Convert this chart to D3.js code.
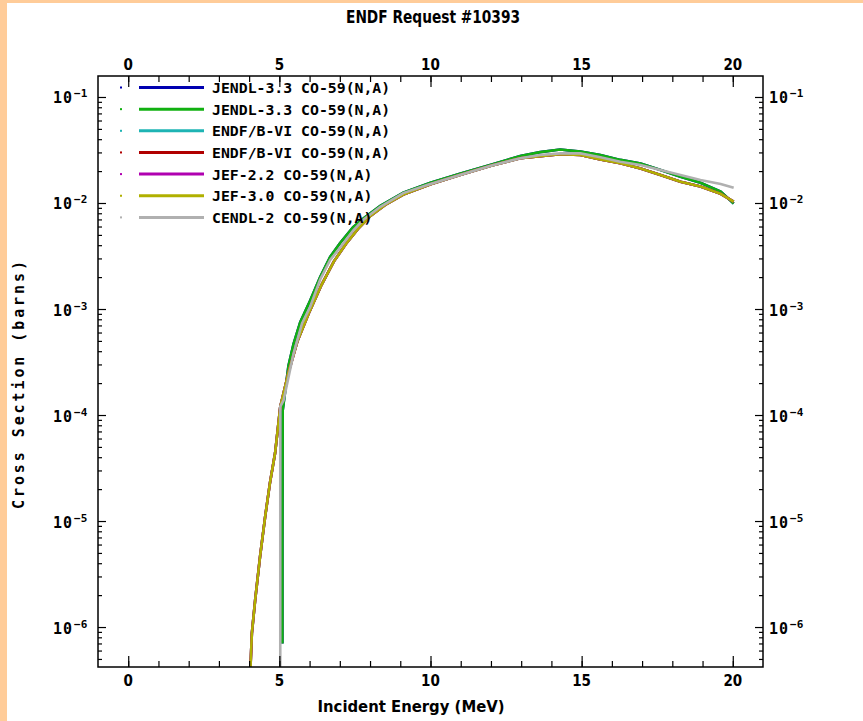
<!DOCTYPE html>
<html>
<head>
<meta charset="utf-8">
<script src="https://cdn.jsdelivr.net/npm/d3@7"></script>
<style>
  html, body { margin: 0; padding: 0; background: #ffffff; }
  svg { display: block; }
</style>
</head>
<body>
<svg id="chart" width="863" height="721"></svg>
<script>
// ---------------- DATA ----------------
const titleText = "ENDF Request #10393";
const xLabelText = "Incident Energy (MeV)";
const yLabelText = "Cross Section (barns)";

const seriesNames = [
  "JENDL-3.3 CO-59(N,A)",
  "JENDL-3.3 CO-59(N,A)",
  "ENDF/B-VI CO-59(N,A)",
  "ENDF/B-VI CO-59(N,A)",
  "JEF-2.2 CO-59(N,A)",
  "JEF-3.0 CO-59(N,A)",
  "CENDL-2 CO-59(N,A)"
];
const seriesColors = ["#0000b0", "#11b011", "#1eb4b4", "#b00000", "#b000b0", "#b0b000", "#b0b0b0"];

const xMajorTicks = [0, 5, 10, 15, 20];
const xMinorTicks = [0,1,2,3,4,5,6,7,8,9,10,11,12,13,14,15,16,17,18,19,20];
const yDecades = [-6, -5, -4, -3, -2, -1];

// [energy MeV, cross section barns]
const jendlA = [
  [5.10, 7e-7], [5.10, 6e-6], [5.11, 1.1e-4], [5.30, 2.9e-4], [5.47, 4.7e-4], [5.69, 7.5e-4],
  [6.02, 1.2e-3], [6.35, 2.0e-3], [6.68, 3.1e-3], [7.01, 4.2e-3], [7.44, 5.9e-3], [7.80, 7.2e-3],
  [8.34, 9.4e-3], [9.10, 1.25e-2], [10.0, 1.55e-2], [11.0, 1.9e-2], [12.0, 2.3e-2], [12.97, 2.78e-2],
  [13.63, 3.02e-2], [14.29, 3.2e-2], [14.96, 3.05e-2], [15.62, 2.84e-2], [16.28, 2.55e-2],
  [16.95, 2.36e-2], [17.61, 2.05e-2], [18.27, 1.77e-2], [18.93, 1.55e-2], [19.60, 1.28e-2], [20.03, 0.99e-2]
];
const jendlB = jendlA;
const endfA = [
  [4.02, 1e-8], [4.05, 4.5e-7], [4.09, 8.7e-7], [4.20, 1.8e-6], [4.36, 4.6e-6], [4.53, 1.1e-5],
  [4.69, 2.3e-5], [4.86, 4.4e-5], [5.03, 1.2e-4], [5.30, 2.5e-4], [5.60, 5.0e-4], [6.00, 9.5e-4],
  [6.40, 1.7e-3], [6.80, 2.8e-3], [7.20, 4.1e-3], [7.60, 5.7e-3], [8.00, 7.5e-3], [8.50, 9.6e-3],
  [9.10, 1.2e-2], [10.0, 1.5e-2], [11.0, 1.85e-2], [12.0, 2.25e-2], [12.97, 2.64e-2], [13.63, 2.77e-2],
  [14.29, 2.88e-2], [14.96, 2.84e-2], [15.62, 2.58e-2], [16.28, 2.37e-2], [16.95, 2.12e-2],
  [17.61, 1.84e-2], [18.27, 1.59e-2], [18.93, 1.43e-2], [19.60, 1.22e-2], [20.03, 1.03e-2]
];
const endfB = endfA;
const jef22 = endfA;
const jef30 = endfA;
const cendl2 = [
  [5.03, 1e-9], [5.03, 1.2e-4], [5.14, 1.38e-4], [5.47, 3.8e-4], [5.75, 7.3e-4], [6.02, 1.05e-3],
  [6.35, 1.9e-3], [6.68, 2.9e-3], [7.01, 3.8e-3], [7.44, 5.5e-3], [7.77, 6.9e-3], [8.34, 9.2e-3],
  [9.10, 1.24e-2], [9.89, 1.48e-2], [11.0, 1.85e-2], [12.0, 2.25e-2], [12.97, 2.64e-2], [13.63, 2.84e-2],
  [14.29, 2.94e-2], [14.96, 2.94e-2], [15.62, 2.70e-2], [16.28, 2.45e-2], [16.95, 2.28e-2],
  [17.61, 2.05e-2], [18.27, 1.84e-2], [18.93, 1.65e-2], [19.60, 1.51e-2], [20.03, 1.39e-2]
];
const seriesData = [jendlA, jendlB, endfA, endfB, jef22, jef30, cendl2];

// ---------------- LAYOUT ----------------
const W = 863, H = 721;
const L = 98, R = 763, T = 76, B = 667;
const svg = d3.select("#chart");

svg.append("rect").attr("x", 0).attr("y", 0).attr("width", W).attr("height", H).attr("fill", "#ffcc99");
svg.append("rect").attr("x", 7).attr("y", 3).attr("width", W - 7).attr("height", H - 3).attr("fill", "#ffffff");

const x = d3.scaleLinear().domain([-1, 21]).range([L, R]);
const y = d3.scaleLog().domain([Math.pow(10, -6.377), Math.pow(10, -0.802)]).range([B, T]);

const monoFont = "'DejaVu Sans Mono', 'Liberation Mono', monospace";
const narrowFont = "'Liberation Sans Narrow', 'DejaVu Sans Condensed', 'DejaVu Sans', sans-serif";

// clip
svg.append("defs").append("clipPath").attr("id", "plotclip")
  .append("rect").attr("x", L).attr("y", T).attr("width", R - L).attr("height", B - T);

// curves
const line = d3.line().x(d => x(d[0])).y(d => y(d[1]));
const curves = svg.append("g").attr("clip-path", "url(#plotclip)");
seriesData.forEach((data, i) => {
  curves.append("path")
    .datum(data)
    .attr("d", line)
    .attr("fill", "none")
    .attr("stroke", seriesColors[i])
    .attr("stroke-width", 2.6)
    .attr("stroke-linejoin", "miter");
});

// axes (ticks inward)
function styleAxis(g) {
  g.selectAll(".domain").remove();
  g.selectAll("line").attr("stroke", "#000").attr("stroke-width", 1.2);
  g.selectAll("text").remove();
}
svg.append("g").attr("transform", `translate(0,${B})`)
  .call(d3.axisTop(x).tickValues(xMinorTicks).tickSize(6).tickFormat("")).call(styleAxis);
svg.append("g").attr("transform", `translate(0,${B})`)
  .call(d3.axisTop(x).tickValues(xMajorTicks).tickSize(11).tickFormat("")).call(styleAxis);
svg.append("g").attr("transform", `translate(0,${T})`)
  .call(d3.axisBottom(x).tickValues(xMinorTicks).tickSize(6).tickFormat("")).call(styleAxis);
svg.append("g").attr("transform", `translate(0,${T})`)
  .call(d3.axisBottom(x).tickValues(xMajorTicks).tickSize(11).tickFormat("")).call(styleAxis);

const yMinor = [];
for (let e = -7; e <= -1; e++) for (let m = 2; m <= 9; m++) {
  const v = m * Math.pow(10, e);
  if (v >= y.domain()[0] && v <= y.domain()[1]) yMinor.push(v);
}
const yMajor = yDecades.map(e => Math.pow(10, e));
svg.append("g").attr("transform", `translate(${L},0)`)
  .call(d3.axisRight(y).tickValues(yMinor).tickSize(4).tickFormat("")).call(styleAxis);
svg.append("g").attr("transform", `translate(${L},0)`)
  .call(d3.axisRight(y).tickValues(yMajor).tickSize(8).tickFormat("")).call(styleAxis);
svg.append("g").attr("transform", `translate(${R},0)`)
  .call(d3.axisLeft(y).tickValues(yMinor).tickSize(4).tickFormat("")).call(styleAxis);
svg.append("g").attr("transform", `translate(${R},0)`)
  .call(d3.axisLeft(y).tickValues(yMajor).tickSize(8).tickFormat("")).call(styleAxis);

// frame
svg.append("rect").attr("x", L).attr("y", T).attr("width", R - L).attr("height", B - T)
  .attr("fill", "none").attr("stroke", "#000").attr("stroke-width", 1.5);

// x tick labels
[B + 19, T - 6].forEach(yy => {
  svg.append("g").selectAll("text").data(xMajorTicks).join("text")
    .attr("x", d => x(d)).attr("y", yy)
    .attr("text-anchor", "middle")
    .attr("font-family", narrowFont).attr("font-weight", "bold").attr("font-size", 15)
    .attr("fill", "#000")
    .text(d => d);
});

// y tick labels
function yLabel(side) {
  const g = svg.append("g");
  yDecades.forEach(e => {
    const yy = y(Math.pow(10, e));
    const t = g.append("text")
      .attr("font-family", monoFont).attr("font-weight", "bold").attr("fill", "#000");
    if (side === "left") {
      t.attr("x", 53).attr("y", yy + 6.5);
    } else {
      t.attr("x", 769).attr("y", yy + 6.5);
    }
    t.append("tspan").attr("font-size", 15).attr("letter-spacing", 1).text("10");
    t.append("tspan").attr("font-size", 11).attr("dy", -6).attr("dx", 1).text("\u2212" + Math.abs(e));
  });
}
yLabel("left");
yLabel("right");

// title
svg.append("text").attr("x", 433).attr("y", 23).attr("text-anchor", "middle")
  .attr("font-family", narrowFont).attr("font-weight", "bold").attr("font-size", 17)
  .attr("textLength", 174).attr("lengthAdjust", "spacingAndGlyphs")
  .text(titleText);

// x axis title
svg.append("text").attr("x", 411).attr("y", 712).attr("text-anchor", "middle")
  .attr("font-family", narrowFont).attr("font-weight", "bold").attr("font-size", 16)
  .attr("textLength", 187).attr("lengthAdjust", "spacingAndGlyphs")
  .text(xLabelText);

// y axis title
svg.append("text")
  .attr("transform", "translate(24,385) rotate(-90)")
  .attr("text-anchor", "middle")
  .attr("font-family", monoFont).attr("font-weight", "bold").attr("font-size", 15)
  .attr("textLength", 248).attr("lengthAdjust", "spacing")
  .text(yLabelText);

// legend
const legY0 = 87.5, legDy = 21.65;
const leg = svg.append("g");
seriesNames.forEach((name, i) => {
  const yy = legY0 + i * legDy;
  leg.append("rect").attr("x", 120).attr("y", yy - 1).attr("width", 2).attr("height", 2)
    .attr("fill", seriesColors[i]);
  leg.append("line").attr("x1", 139).attr("x2", 204).attr("y1", yy).attr("y2", yy)
    .attr("stroke", seriesColors[i]).attr("stroke-width", 3);
  leg.append("text").attr("x", 212).attr("y", yy + 5.5)
    .attr("font-family", monoFont).attr("font-weight", "bold").attr("font-size", 14.8)
    .attr("fill", "#000")
    .text(name);
});
</script>
</body>
</html>
